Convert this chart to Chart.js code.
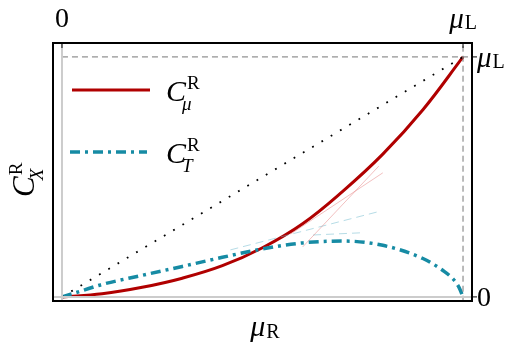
<!DOCTYPE html>
<html>
<head>
<meta charset="utf-8">
<script src="https://cdn.jsdelivr.net/npm/chart.js@4.4.0/dist/chart.umd.min.js"></script>
<style>
  body { margin: 0; background: #ffffff; }
  #wrap { width: 515px; height: 355px; }
</style>
</head>
<body>
<div id="wrap"><canvas id="myChart" width="515" height="355"></canvas></div>
<script>
// values, x and y both in units of mu_L
var mu_x = [0, 0.1, 0.2, 0.3, 0.4, 0.5, 0.6, 0.7, 0.8, 0.9, 1.0];
var c_mu = [0, 0.013, 0.04, 0.078, 0.13, 0.205, 0.305, 0.44, 0.595, 0.78, 1.0];

var t_x = [0, 0.05, 0.1, 0.2, 0.3, 0.4, 0.5, 0.6, 0.7, 0.8, 0.9, 0.95, 0.975, 0.99, 1.0];
var c_t = [0, 0.026, 0.052, 0.09, 0.127, 0.165, 0.2, 0.225, 0.233, 0.215, 0.16, 0.11, 0.075, 0.04, 0];

// faint helper lines in the middle
var pink_a = [[0.60, 0.208], [0.79, 0.545]];
var pink_b = [[0.57, 0.262], [0.80, 0.517]];
var teal_a = [[0.42, 0.196], [0.786, 0.354]];
var teal_b = [[0.626, 0.258], [0.743, 0.267]];

var x_ticks = ["0", "\u03bc"];   // top: 0 and mu_L
var y_ticks = ["0", "\u03bc"];   // right: 0 and mu_L

var red = "#b00000";
var teal = "#168ba4";
var serif = "'Liberation Serif', 'DejaVu Serif', serif";

function pts(xs, ys) {
    var arr = [];
    for (var i = 0; i < xs.length; i++) {
        arr.push({x: xs[i], y: ys[i]});
    }
    return arr;
}
function pairs(p) {
    return p.map(function(q){ return {x: q[0], y: q[1]}; });
}

// draws "C" with a superscript R and a subscript
function drawC(ctx, x, y, size, sub) {
    ctx.textAlign = "left";
    ctx.textBaseline = "alphabetic";
    ctx.font = "italic " + size + "px " + serif;
    ctx.fillText("C", x, y);
    var w = ctx.measureText("C").width;
    ctx.font = Math.round(size * 0.62) + "px " + serif;
    ctx.fillText("R", x + w + 1, y - size * 0.4);
    ctx.font = "italic " + Math.round(size * 0.62) + "px " + serif;
    ctx.fillText(sub, x + w - 4, y + size * 0.3);
}
function drawMu(ctx, x, y, size, sub, align) {
    ctx.font = "italic " + size + "px " + serif;
    var w1 = ctx.measureText("\u03bc").width;
    ctx.font = Math.round(size * 0.68) + "px " + serif;
    var w2 = ctx.measureText(sub).width;
    var x0 = x;
    if (align === "center") x0 = x - (w1 + w2 + 1) / 2;
    ctx.textAlign = "left";
    ctx.textBaseline = "alphabetic";
    ctx.font = "italic " + size + "px " + serif;
    ctx.fillText("\u03bc", x0, y);
    ctx.font = Math.round(size * 0.68) + "px " + serif;
    ctx.fillText(sub, x0 + w1 + 1, y + size * 0.05);
}

var framePlugin = {
    id: "frame",
    afterDraw: function(chart) {
        var ctx = chart.ctx;
        var a = chart.chartArea;
        var xs = chart.scales.x, ys = chart.scales.y;
        var x0 = xs.getPixelForValue(0), x1 = xs.getPixelForValue(1);
        var y0 = ys.getPixelForValue(0), y1 = ys.getPixelForValue(1);
        ctx.save();
        // frame
        ctx.strokeStyle = "#000";
        ctx.lineWidth = 2;
        ctx.strokeRect(a.left, a.top, a.right - a.left, a.bottom - a.top);
        // ticks
        ctx.lineWidth = 1;
        ctx.beginPath();
        ctx.moveTo(x0, a.top); ctx.lineTo(x0, a.top + 5);
        ctx.moveTo(x1, a.top); ctx.lineTo(x1, a.top + 5);
        ctx.moveTo(a.right, y1); ctx.lineTo(a.right + 5, y1);
        ctx.moveTo(a.right, y0); ctx.lineTo(a.right + 5, y0);
        ctx.stroke();

        ctx.fillStyle = "#000";
        // top tick labels
        ctx.font = "28px " + serif;
        ctx.textAlign = "center";
        ctx.textBaseline = "alphabetic";
        ctx.fillText(x_ticks[0], x0, 27);
        drawMu(ctx, x1, 28, 29, "L", "center");
        // right tick labels
        ctx.font = "28px " + serif;
        ctx.textAlign = "left";
        ctx.textBaseline = "alphabetic";
        ctx.fillText(y_ticks[0], a.right + 5, y0 + 9);
        drawMu(ctx, a.right + 5, y1 + 10, 29, "L", "left");
        // axis titles
        drawMu(ctx, 265, 336, 30, "R", "center");
        ctx.save();
        ctx.translate(34, 197);
        ctx.rotate(-Math.PI / 2);
        drawC(ctx, 0, 0, 31, "X");
        ctx.restore();

        // legend
        ctx.lineWidth = 3;
        ctx.strokeStyle = red;
        ctx.setLineDash([]);
        ctx.beginPath(); ctx.moveTo(72, 90); ctx.lineTo(150, 90); ctx.stroke();
        ctx.strokeStyle = teal;
        ctx.lineWidth = 3.5;
        ctx.setLineDash([10, 5, 3, 5]);
        ctx.beginPath(); ctx.moveTo(70, 152); ctx.lineTo(147, 152); ctx.stroke();
        ctx.setLineDash([]);
        ctx.fillStyle = "#000";
        drawC(ctx, 166, 101, 30, "\u03bc");
        drawC(ctx, 166, 163, 30, "T");
        ctx.restore();
    }
};

var ctx = document.getElementById("myChart").getContext("2d");
var myChart = new Chart(ctx, {
    type: "scatter",
    data: {
        datasets: [
            { data: pairs([[0, -0.02], [0, 1.06]]), showLine: true, borderColor: "#cccccc", borderWidth: 2, pointRadius: 0 },
            { data: pairs([[-0.03, 0], [1.03, 0]]), showLine: true, borderColor: "#cccccc", borderWidth: 2, pointRadius: 0 },
            { data: pairs([[1, -0.02], [1, 1.06]]), showLine: true, borderColor: "#777777", borderWidth: 1, borderDash: [6, 4], pointRadius: 0 },
            { data: pairs([[0, 1], [1.03, 1]]), showLine: true, borderColor: "#777777", borderWidth: 1, borderDash: [6, 4], pointRadius: 0 },
            { data: pairs([[0, 0], [1, 1]]), showLine: true, borderColor: "#000000", borderWidth: 1.8, borderDash: [1.8, 9], pointRadius: 0 },
            { data: pairs(pink_a), showLine: true, borderColor: "rgba(225,110,110,0.55)", borderWidth: 0.8, pointRadius: 0 },
            { data: pairs(pink_b), showLine: true, borderColor: "rgba(225,110,110,0.55)", borderWidth: 0.8, pointRadius: 0 },
            { data: pairs(teal_a), showLine: true, borderColor: "rgba(110,185,205,0.5)", borderWidth: 1, borderDash: [8, 5], pointRadius: 0 },
            { data: pairs(teal_b), showLine: true, borderColor: "rgba(110,185,205,0.5)", borderWidth: 1, borderDash: [8, 5], pointRadius: 0 },
            { label: "C_T", data: pts(t_x, c_t), showLine: true, borderColor: teal, borderWidth: 3.5,
              borderDash: [10, 5, 3, 5], pointRadius: 0, cubicInterpolationMode: "monotone" },
            { label: "C_mu", data: pts(mu_x, c_mu), showLine: true, borderColor: red, borderWidth: 3,
              pointRadius: 0, tension: 0.4 }
        ]
    },
    options: {
        responsive: false,
        animation: false,
        layout: { padding: { left: 53, right: 43, top: 43, bottom: 54 } },
        plugins: { legend: { display: false }, tooltip: { enabled: false } },
        scales: {
            x: { type: "linear", display: false, min: -0.0224, max: 1.0224 },
            y: { type: "linear", display: false, min: -0.017, max: 1.058 }
        }
    },
    plugins: [framePlugin]
});
</script>
</body>
</html>
